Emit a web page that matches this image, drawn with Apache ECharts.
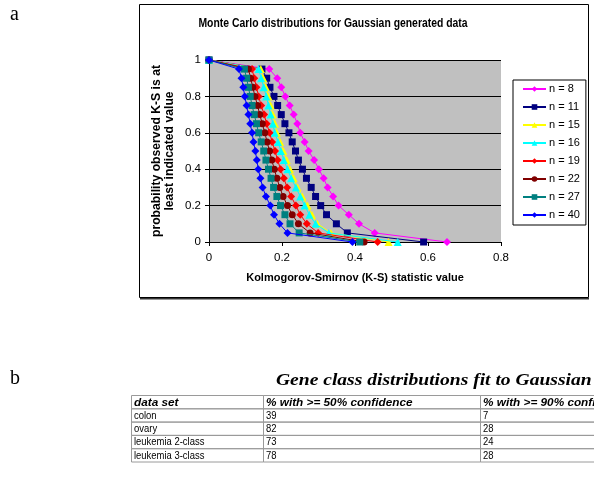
<!DOCTYPE html>
<html>
<head>
<meta charset="utf-8">
<script src="https://cdn.jsdelivr.net/npm/echarts@6/dist/echarts.min.js"></script>
<style>
html,body{margin:0;padding:0;background:#fff;}
#c{width:594px;height:485px;}
</style>
</head>
<body>
<div id="c"></div>
<script>
// probability levels shared by all curves
const probLevels = [1, 0.95, 0.9, 0.85, 0.8, 0.75, 0.7, 0.65, 0.6, 0.55, 0.5, 0.45, 0.4, 0.35, 0.3, 0.25, 0.2, 0.15, 0.1, 0.05, 0];
// K-S statistic value at each level, per sample size
const ks_n8  = [0, 0.165, 0.187, 0.198, 0.209, 0.221, 0.232, 0.242, 0.250, 0.262, 0.273, 0.288, 0.301, 0.314, 0.325, 0.340, 0.355, 0.383, 0.411, 0.454, 0.652];
const ks_n11 = [0, 0.145, 0.158, 0.167, 0.178, 0.188, 0.198, 0.208, 0.219, 0.228, 0.237, 0.245, 0.256, 0.267, 0.280, 0.292, 0.306, 0.322, 0.349, 0.379, 0.588];
const ks_n15 = [0, 0.142, 0.149, 0.156, 0.163, 0.169, 0.175, 0.181, 0.186, 0.195, 0.204, 0.213, 0.222, 0.232, 0.243, 0.256, 0.270, 0.282, 0.297, 0.334, 0.492];
const ks_n16 = [0, 0.136, 0.143, 0.150, 0.157, 0.163, 0.169, 0.175, 0.180, 0.189, 0.197, 0.205, 0.215, 0.225, 0.238, 0.250, 0.262, 0.275, 0.292, 0.328, 0.517];
const ks_n19 = [0, 0.118, 0.124, 0.130, 0.136, 0.143, 0.151, 0.158, 0.166, 0.173, 0.181, 0.188, 0.196, 0.205, 0.214, 0.225, 0.238, 0.250, 0.268, 0.299, 0.462];
const ks_n22 = [0, 0.108, 0.114, 0.120, 0.126, 0.133, 0.139, 0.146, 0.153, 0.159, 0.166, 0.172, 0.179, 0.186, 0.194, 0.203, 0.215, 0.228, 0.245, 0.277, 0.425];
const ks_n27 = [0, 0.097, 0.103, 0.108, 0.113, 0.118, 0.124, 0.130, 0.136, 0.143, 0.150, 0.156, 0.163, 0.170, 0.177, 0.186, 0.196, 0.208, 0.222, 0.247, 0.413];
const ks_n40 = [0, 0.082, 0.089, 0.094, 0.098, 0.103, 0.108, 0.113, 0.118, 0.122, 0.127, 0.131, 0.135, 0.141, 0.147, 0.156, 0.168, 0.178, 0.193, 0.215, 0.393];

const seriesNames = ['n = 8', 'n = 11', 'n = 15', 'n = 16', 'n = 19', 'n = 22', 'n = 27', 'n = 40'];
const seriesValues = [ks_n8, ks_n11, ks_n15, ks_n16, ks_n19, ks_n22, ks_n27, ks_n40];
const seriesColors = ['#FF00FF', '#000080', '#FFFF00', '#00FFFF', '#FF0000', '#800000', '#008080', '#0000FF'];
const seriesSymbols = ['diamond', 'rect', 'triangle', 'triangle', 'diamond', 'circle', 'rect', 'diamond'];
const seriesSymbolSizes = [8, 7, 8, 8, 8, 7, 7, 8];

const xTicks = [0, 0.2, 0.4, 0.6, 0.8];
const yTicks = [0, 0.2, 0.4, 0.6, 0.8, 1];

// table (part b)
const tableHeaders = ['data set', '% with >= 50% confidence', '% with >= 90% confidence'];
const tableDataSets = ['colon', 'ovary', 'leukemia 2-class', 'leukemia 3-class'];
const tablePct50 = [39, 82, 73, 78];
const tablePct90 = [7, 28, 24, 28];

const chart = echarts.init(document.getElementById('c'), null, {renderer: 'canvas'});

const FONT = 'Arial, "Liberation Sans", sans-serif';
const SERIF = '"Times New Roman", "Liberation Serif", serif';

const series = seriesNames.map((name, k) => ({
  name: name,
  type: 'line',
  data: seriesValues[k].map((x, i) => [x, probLevels[i]]),
  symbol: seriesSymbols[k],
  symbolSize: seriesSymbolSizes[k],
  showAllSymbol: true,
  lineStyle: {color: seriesColors[k], width: 1},
  itemStyle: {color: seriesColors[k], borderWidth: 0},
  emphasis: {disabled: true},
  animation: false,
  z: 2 + k
}));

// table graphics
const tableTop = 395, rowH = 13.3;
const colX = [131, 263, 480, 700];
const tableEls = [];
const rows = [tableHeaders].concat(tableDataSets.map((d, i) => [d, String(tablePct50[i]), String(tablePct90[i])]));
rows.forEach((row, r) => {
  row.forEach((cell, c) => {
    tableEls.push({
      type: 'rect',
      shape: {x: colX[c] + 0.5, y: tableTop + r * rowH + 0.5, width: colX[c + 1] - colX[c], height: rowH},
      style: {fill: 'none', stroke: '#9a9a9a', lineWidth: 1},
      silent: true
    });
    tableEls.push({
      type: 'text',
      x: colX[c] + 3,
      y: tableTop + r * rowH + rowH / 2 + 1,
      scaleX: r === 0 ? 1.07 : 0.9,
      style: {
        text: cell,
        fontFamily: FONT,
        fontSize: r === 0 ? 11 : 10.5,
        fontStyle: r === 0 ? 'italic' : 'normal',
        fontWeight: r === 0 ? 'bold' : 'normal',
        fill: '#000',
        verticalAlign: 'middle',
        align: 'left'
      },
      silent: true
    });
  });
});

const option = {
  backgroundColor: '#ffffff',
  animation: false,
  legend: {
    orient: 'vertical',
    left: 513,
    top: 80,
    padding: [3, 6, 4, 9],
    itemWidth: 23,
    itemHeight: 7,
    itemGap: 6,
    borderColor: '#000',
    borderWidth: 1,
    backgroundColor: '#fff',
    textStyle: {fontFamily: FONT, fontSize: 11, lineHeight: 12, color: '#000', padding: [0, 0, 0, -2]},
    data: seriesNames
  },
  grid: {
    left: 209,
    top: 60,
    width: 292,
    height: 182,
    show: true,
    backgroundColor: '#C0C0C0',
    borderWidth: 0,
    containLabel: false
  },
  xAxis: {
    type: 'value',
    min: 0, max: 0.8, interval: 0.2,
    name: 'Kolmogorov-Smirnov (K-S) statistic value',
    nameLocation: 'middle',
    nameGap: 30,
    nameTextStyle: {fontFamily: FONT, fontWeight: 'bold', fontSize: 11, color: '#000'},
    axisLine: {show: true, lineStyle: {color: '#000', width: 1}},
    axisTick: {show: true, length: 4, lineStyle: {color: '#000'}},
    axisLabel: {fontFamily: FONT, fontSize: 11.5, color: '#000', margin: 10,
      formatter: v => String(xTicks.find(t => Math.abs(t - v) < 1e-9) ?? v)},
    splitLine: {show: false}
  },
  yAxis: {
    type: 'value',
    min: 0, max: 1, interval: 0.2,
    name: 'probability observed K-S is at\nleast indicated value',
    nameLocation: 'middle',
    nameGap: 33,
    nameRotate: 90,
    nameTextStyle: {fontFamily: FONT, fontWeight: 'bold', fontSize: 12.2, color: '#000', lineHeight: 13},
    axisLine: {show: true, lineStyle: {color: '#000', width: 1}},
    axisTick: {show: true, length: 4, lineStyle: {color: '#000'}},
    axisLabel: {fontFamily: FONT, fontSize: 11.5, color: '#000', margin: 8,
      formatter: v => String(yTicks.find(t => Math.abs(t - v) < 1e-9) ?? v)},
    splitLine: {show: true, lineStyle: {color: '#000', width: 1}}
  },
  graphic: [
    {type: 'rect', shape: {x: 139.5, y: 4.5, width: 449, height: 293}, style: {fill: 'none', stroke: '#000', lineWidth: 1}, silent: true, z: -1},
    {type: 'rect', shape: {x: 140, y: 298, width: 449, height: 1.5}, style: {fill: '#333'}, silent: true, z: -1},
    {type: 'text', x: 333, y: 23, scaleX: 0.77,
      style: {text: 'Monte Carlo distributions for Gaussian generated data', fontFamily: FONT, fontWeight: 'bold', fontSize: 13.5, fill: '#000', align: 'center', verticalAlign: 'middle'}, silent: true},
    {type: 'text', x: 10, y: 5, style: {text: 'a', fontFamily: SERIF, fontSize: 20, fill: '#000'}, silent: true},
    {type: 'text', x: 10, y: 369, style: {text: 'b', fontFamily: SERIF, fontSize: 20, fill: '#000'}, silent: true},
    {type: 'text', x: 276, y: 372, scaleX: 1.15, style: {text: 'Gene class distributions fit to Gaussian', fontFamily: SERIF, fontStyle: 'italic', fontWeight: 'bold', fontSize: 17, fill: '#000'}, silent: true}
  ].concat(tableEls),
  series: series
};

chart.setOption(option);
</script>
</body>
</html>
